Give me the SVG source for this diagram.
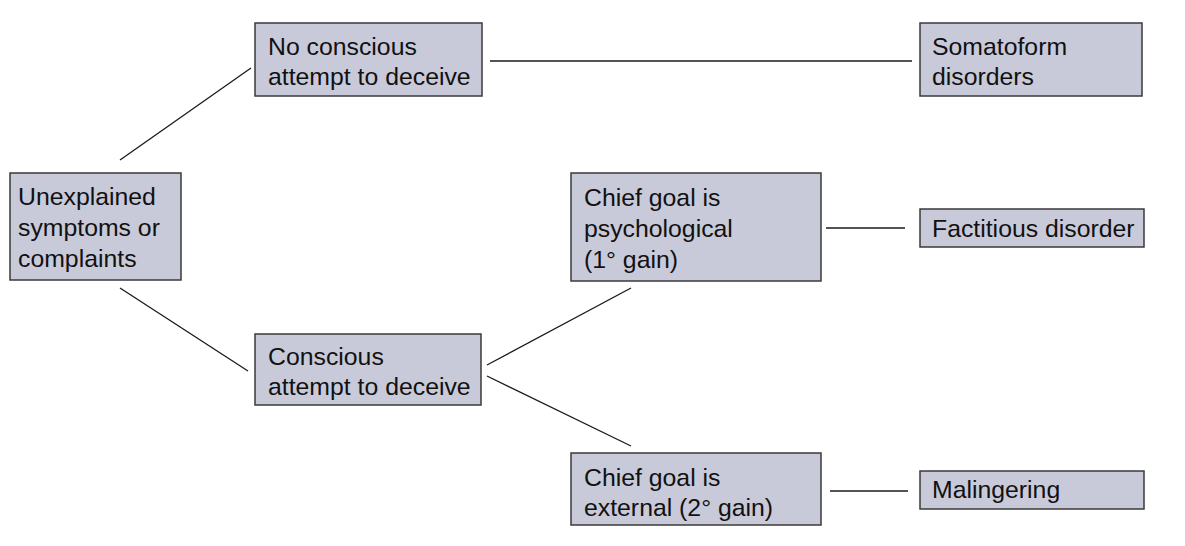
<svg xmlns="http://www.w3.org/2000/svg" width="1185" height="546" viewBox="0 0 1185 546">
<style>
.box{fill:#c9cad9;stroke:#3a3a3a;stroke-width:1.5}
.t{font-family:"Liberation Sans",Arial,sans-serif;font-size:24.8px;fill:#111111}
.c{stroke:#1a1a1a;stroke-width:1.3;fill:none}
</style>
<rect width="1185" height="546" fill="#ffffff"/>
<g id="connectors">
<line class="c" x1="120" y1="160" x2="251" y2="68"/>
<line class="c" x1="120" y1="288" x2="248" y2="371"/>
<line class="c" x1="490" y1="61" x2="912" y2="61"/>
<line class="c" x1="487" y1="365" x2="631" y2="288"/>
<line class="c" x1="487" y1="376" x2="631" y2="446"/>
<line class="c" x1="826" y1="228" x2="905" y2="228"/>
<line class="c" x1="830" y1="491" x2="908" y2="491"/>
</g>
<g id="unexplained">
<rect class="box" x="10" y="173" width="171" height="107"/>
<text class="t" x="18" y="205">Unexplained</text>
<text class="t" x="18" y="236">symptoms or</text>
<text class="t" x="18" y="267">complaints</text>
</g>
<g id="no-conscious">
<rect class="box" x="255" y="23" width="227" height="73"/>
<text class="t" x="268" y="55">No conscious</text>
<text class="t" x="268" y="85">attempt to deceive</text>
</g>
<g id="somatoform">
<rect class="box" x="920" y="23" width="222" height="73"/>
<text class="t" x="932" y="55">Somatoform</text>
<text class="t" x="932" y="85">disorders</text>
</g>
<g id="conscious">
<rect class="box" x="255" y="334" width="226" height="71"/>
<text class="t" x="268" y="365">Conscious</text>
<text class="t" x="268" y="395">attempt to deceive</text>
</g>
<g id="psychological">
<rect class="box" x="571" y="173" width="250" height="108"/>
<text class="t" x="584" y="206">Chief goal is</text>
<text class="t" x="584" y="237">psychological</text>
<text class="t" x="584" y="268">(1° gain)</text>
</g>
<g id="factitious">
<rect class="box" x="920" y="209" width="224" height="38"/>
<text class="t" x="932" y="237">Factitious disorder</text>
</g>
<g id="external">
<rect class="box" x="571" y="453" width="250" height="72"/>
<text class="t" x="584" y="486">Chief goal is</text>
<text class="t" x="584" y="516">external (2° gain)</text>
</g>
<g id="malingering">
<rect class="box" x="920" y="471" width="224" height="38"/>
<text class="t" x="932" y="498">Malingering</text>
</g>
</svg>
